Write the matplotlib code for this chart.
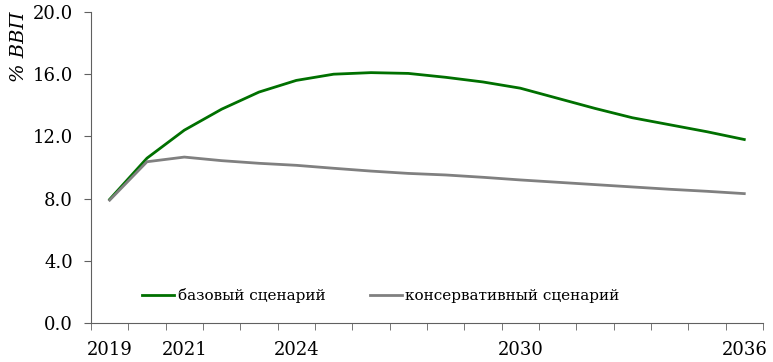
import numpy as np
import matplotlib.pyplot as plt
from matplotlib.ticker import FixedLocator, MultipleLocator

years = list(range(2019, 2037))
base = [7.95, 10.6, 12.4, 13.75, 14.85, 15.6, 16.0, 16.1, 16.05,
        15.8, 15.5, 15.1, 14.45, 13.8, 13.2, 12.75, 12.3, 11.8]
conservative = [7.9, 10.37, 10.67, 10.44, 10.27, 10.14, 9.95, 9.77, 9.62,
                9.52, 9.37, 9.2, 9.05, 8.9, 8.75, 8.6, 8.47, 8.32]
label_years = [2019, 2021, 2024, 2030, 2036]

plt.rcParams['font.family'] = ['DejaVu Serif']
plt.rcParams['font.size'] = 13

fig = plt.figure(figsize=(7.73, 3.62), dpi=100)
ax = fig.add_axes([0.1177, 0.1077, 0.8693, 0.8592])

x = np.arange(len(years))
ax.plot(x, base, color='#007000', lw=2.0, label='базовый сценарий')
ax.plot(x, conservative, color='#808080', lw=2.0, label='консервативный сценарий')

ax.set_xlim(-0.5, len(years) - 0.5)
ax.set_ylim(0, 20)
ax.yaxis.set_major_locator(MultipleLocator(4))
ax.set_yticklabels([f'{v:.1f}' for v in ax.get_yticks()])

pos = [years.index(y) for y in label_years]
ax.xaxis.set_major_locator(FixedLocator(pos))
ax.set_xticklabels([str(y) for y in label_years])
ax.xaxis.set_minor_locator(FixedLocator(np.arange(-0.5, len(years), 1)))
ax.tick_params(axis='x', which='major', length=0, pad=13)
ax.tick_params(axis='x', which='minor', length=5, color='#606060')
ax.tick_params(axis='y', length=5, color='#606060', pad=8)

for s in ['top', 'right']:
    ax.spines[s].set_visible(False)
for s in ['left', 'bottom']:
    ax.spines[s].set_color('#606060')

ax.legend(loc='lower left', bbox_to_anchor=(0.055, 0.02), ncol=2, frameon=False,
          handlelength=2.1, handletextpad=0.25, columnspacing=2.9, fontsize=11)

fig.text(0.024, 0.87, '% ВВП', rotation=90, style='italic', fontsize=14,
         ha='center', va='center')

fig.savefig('out.png', dpi=100)
